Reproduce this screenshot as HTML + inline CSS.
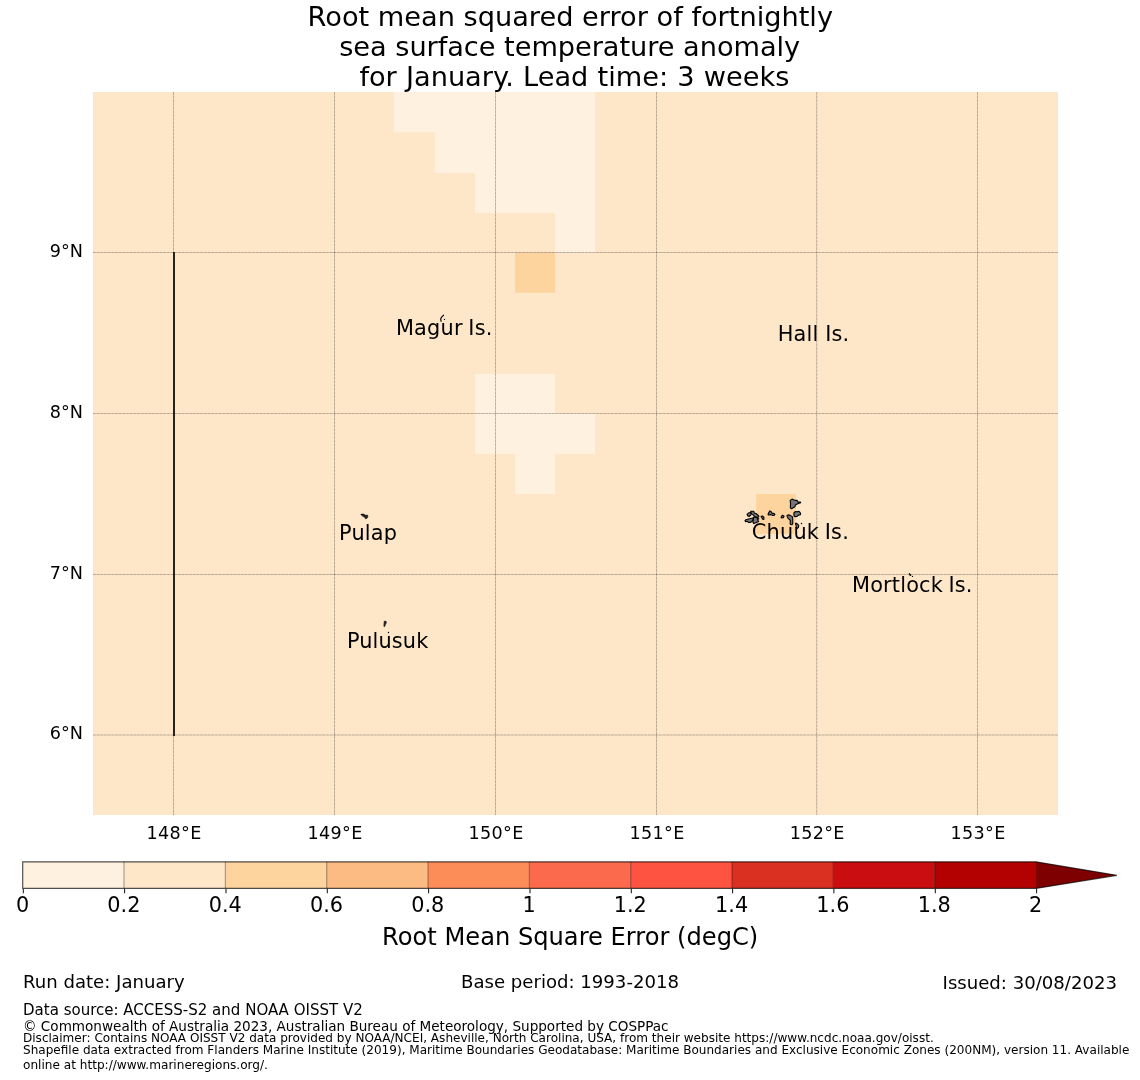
<!DOCTYPE html>
<html><head><meta charset="utf-8"><title>RMSE SST anomaly</title>
<style>
html,body{margin:0;padding:0;background:#fff;}
svg{display:block;font-family:"DejaVu Sans","Liberation Sans",sans-serif;fill:#000;}
.g{stroke:#000;stroke-opacity:.16;stroke-width:1;stroke-dasharray:2.6 1.1;fill:none}
.gs{stroke:#000;stroke-opacity:.125;stroke-width:1;fill:none}
.isl{fill:#757575;stroke:#000;stroke-width:1.1;stroke-linejoin:round}
.t{font-size:27.2px;text-anchor:middle}
.ax{font-size:17.6px;letter-spacing:.3px}
.lb{font-size:20.83px;letter-spacing:.23px;word-spacing:-1.3px}
.cb{font-size:20.8px;text-anchor:middle}
</style></head><body>
<svg width="1140" height="1080" viewBox="0 0 1140 1080">
<rect width="1140" height="1080" fill="#fff"/>
<text class="t" x="570.3" y="25.8">Root mean squared error of fortnightly</text>
<text class="t" x="569.7" y="55.6" style="letter-spacing:-.04px">sea surface temperature anomaly</text>
<text class="t" x="574.4" y="85.7" style="word-spacing:.55px">for January. Lead time: 3 weeks</text>
<rect x="93.0" y="92.0" width="965.0" height="723.0" fill="#fee7c9"/>
<polygon fill="#fff1df" points="394,92 595,92 595,252.6 555,252.6 555,212.9 475,212.9 475,172.8 434.8,172.8 434.8,132.2 394,132.2"/>
<rect x="515.1" y="252.6" width="39.9" height="40.2" fill="#fdd49e"/>
<polygon fill="#fff1df" points="475,374 555,374 555,413.6 595,413.6 595,453.9 555,453.9 555,494 515.1,494 515.1,453.9 475,453.9"/>
<rect x="756.1" y="494.0" width="39.8" height="39.9" fill="#fdd49e"/>
<line class="gs" x1="173.5" x2="173.5" y1="92.0" y2="815.0"/>
<line class="g" x1="173.5" x2="173.5" y1="92.0" y2="815.0"/>
<line class="gs" x1="334.5" x2="334.5" y1="92.0" y2="815.0"/>
<line class="g" x1="334.5" x2="334.5" y1="92.0" y2="815.0"/>
<line class="gs" x1="495.5" x2="495.5" y1="92.0" y2="815.0"/>
<line class="g" x1="495.5" x2="495.5" y1="92.0" y2="815.0"/>
<line class="gs" x1="656.5" x2="656.5" y1="92.0" y2="815.0"/>
<line class="g" x1="656.5" x2="656.5" y1="92.0" y2="815.0"/>
<line class="gs" x1="816.7" x2="816.7" y1="92.0" y2="815.0"/>
<line class="g" x1="816.7" x2="816.7" y1="92.0" y2="815.0"/>
<line class="gs" x1="977.5" x2="977.5" y1="92.0" y2="815.0"/>
<line class="g" x1="977.5" x2="977.5" y1="92.0" y2="815.0"/>
<line class="gs" y1="252.5" y2="252.5" x1="93.0" x2="1058.0"/>
<line class="g" y1="252.5" y2="252.5" x1="93.0" x2="1058.0"/>
<line class="gs" y1="413.5" y2="413.5" x1="93.0" x2="1058.0"/>
<line class="g" y1="413.5" y2="413.5" x1="93.0" x2="1058.0"/>
<line class="gs" y1="574.5" y2="574.5" x1="93.0" x2="1058.0"/>
<line class="g" y1="574.5" y2="574.5" x1="93.0" x2="1058.0"/>
<line class="gs" y1="735.0" y2="735.0" x1="93.0" x2="1058.0"/>
<line class="g" y1="735.0" y2="735.0" x1="93.0" x2="1058.0"/>
<line x1="174" x2="174" y1="252" y2="735.9" stroke="#1e1b16" stroke-width="1.9"/>
<text class="ax" text-anchor="middle" x="174.1" y="838.9">148°E</text>
<text class="ax" text-anchor="middle" x="335.1" y="838.9">149°E</text>
<text class="ax" text-anchor="middle" x="496.1" y="838.9">150°E</text>
<text class="ax" text-anchor="middle" x="657.1" y="838.9">151°E</text>
<text class="ax" text-anchor="middle" x="817.3" y="838.9">152°E</text>
<text class="ax" text-anchor="middle" x="978.1" y="838.9">153°E</text>
<text class="ax" text-anchor="end" style="letter-spacing:.1px" x="83.1" y="256.5">9°N</text>
<text class="ax" text-anchor="end" style="letter-spacing:.1px" x="83.1" y="417.5">8°N</text>
<text class="ax" text-anchor="end" style="letter-spacing:.1px" x="83.1" y="578.5">7°N</text>
<text class="ax" text-anchor="end" style="letter-spacing:.1px" x="83.1" y="739.0">6°N</text>
<polygon class="isl" points="747.04,514.38 748.37,513.05 750.6,512.45 751.19,513.79 750.89,514.97 749.41,516.46 747.78,515.86"/>
<polygon class="isl" points="750.75,511.27 753.86,511.27 754.16,512.9 755.93,513.49 758.6,515.57 758.75,516.75 758.01,517.35 755.34,516.75 754.45,516.46 753.27,514.97 752.08,514.38 751.19,513.2"/>
<polygon class="isl" points="744.96,520.61 745.85,519.72 749.41,518.83 752.97,517.94 753.27,519.42 752.08,521.2 750.6,522.39 748.52,522.39 747.04,521.2 745.56,521.79"/>
<polygon class="isl" points="753.41,517.35 755.04,517.05 758.01,518.53 758.75,518.83 757.42,519.72 758.75,521.5 757.42,522.09 755.04,522.98 753.86,523.57 752.97,522.68 753.27,519.72"/>
<polygon class="isl" points="761.12,516.31 762.75,516.16 763.94,517.35 763.79,519.42 762.75,519.13 761.72,517.64"/>
<polygon class="isl" points="790.16,500.42 792,499.13 793.48,499.68 795.69,500.42 797.16,500.42 797.9,501.9 800.48,502.08 800.66,502.82 798.63,503.37 797.16,503.92 795.32,505.03 794.95,506.69 793.11,507.79 791.45,508.71 790.34,507.79 790.53,503.37"/>
<polygon class="isl" points="794.03,512.58 795.69,511.48 797.16,511.84 798.63,511.29 799.92,512.21 800.66,513.69 800.29,514.79 798.63,515.16 797.16,516.27 795.69,516.63 794.21,516.45 793.84,514.42"/>
<polygon class="isl" points="787.03,515.53 788.69,514.79 790.16,515.53 792.37,516.63 792.74,518.84 792.74,523.63 792,524.74 790.53,524.56 790.16,523.27 790.34,520.32 789.05,519.21 787.95,518.11 787.21,516.63"/>
<polygon class="isl" points="781.13,517 782.42,515.16 784.08,516.27 783.16,517.74 781.32,517.92"/>
<polygon class="isl" points="768.05,514.24 768.79,512.58 769.9,510.92 771,511.48 772.11,513.13 773.95,513.5 774.87,514.42 774.32,515.16 772.66,515.53 771,514.61 768.42,514.98"/>
<polygon class="isl" points="795.5,523.27 796.42,523.27 797.9,524.37 798.82,525.48 798.45,527.32 797.34,528.42 796.42,527.69 796.05,525.48"/>
<circle cx="801.5" cy="523.45" r=".75" fill="#000"/>
<path d="M443.6 315.1 L441.4 317.3 L440.7 319.2 L441.1 321.3" fill="none" stroke="#000" stroke-width="1.15" stroke-linecap="round" stroke-linejoin="round"/>
<circle cx="444.5" cy="319.4" r=".65"/>
<path d="M360.9 514.1 L363.7 514.1 L365.8 515.3 L367.4 515 L368 516.3 L367.1 518.2 L365.5 518.9 L365 517.4 L363.2 516.6 L361.2 515.1 Z" fill="#222" stroke="#000" stroke-width=".5" stroke-linejoin="round"/>
<path d="M384.1 621.2 L385.6 621 L386.7 622.1 L385.6 624.6 L384.6 626.8 L383.8 626.4 L383.9 624 Z" fill="#2a2a2a" stroke="#000" stroke-width=".4" stroke-linejoin="round"/>
<circle cx="388.45" cy="632.5" r=".7"/>
<path d="M909.2 573.3 L909.8 575.4 L911 575.6 L910.8 574.6 Z" fill="#000" stroke="#000" stroke-width=".7" stroke-linejoin="round"/>
<circle cx="912.5" cy="576.4" r=".7"/>
<text class="lb" x="395.9" y="335.2">Magur Is.</text>
<text class="lb" x="339.0" y="539.8">Pulap</text>
<text class="lb" x="346.9" y="647.8" style="letter-spacing:.15px">Pulusuk</text>
<text class="lb" x="751.8" y="539">Chuuk Is.</text>
<text class="lb" x="777.7" y="340.8" style="word-spacing:-.3px">Hall Is.</text>
<text class="lb" x="852.0" y="591.8" style="letter-spacing:.18px">Mortlock Is.</text>
<rect x="22.7" y="861.8" width="101.5" height="26.6" fill="#fff1df"/>
<rect x="124.0" y="861.8" width="101.5" height="26.6" fill="#fee7c9"/>
<rect x="225.4" y="861.8" width="101.5" height="26.6" fill="#fdd49e"/>
<rect x="326.7" y="861.8" width="101.5" height="26.6" fill="#fdbb84"/>
<rect x="428.0" y="861.8" width="101.5" height="26.6" fill="#fc8d59"/>
<rect x="529.4" y="861.8" width="101.5" height="26.6" fill="#fc6a4e"/>
<rect x="630.7" y="861.8" width="101.5" height="26.6" fill="#ff5341"/>
<rect x="732.0" y="861.8" width="101.5" height="26.6" fill="#d93021"/>
<rect x="833.3" y="861.8" width="101.5" height="26.6" fill="#c90d10"/>
<rect x="934.7" y="861.8" width="101.5" height="26.6" fill="#b30000"/>
<polygon points="1036.0,861.8 1116.9,875.3 1036.0,888.4" fill="#7f0000"/>
<line x1="124.0" x2="124.0" y1="861.8" y2="888.4" stroke="#000" stroke-opacity=".3" stroke-width="1.3"/>
<line x1="225.4" x2="225.4" y1="861.8" y2="888.4" stroke="#000" stroke-opacity=".3" stroke-width="1.3"/>
<line x1="326.7" x2="326.7" y1="861.8" y2="888.4" stroke="#000" stroke-opacity=".3" stroke-width="1.3"/>
<line x1="428.0" x2="428.0" y1="861.8" y2="888.4" stroke="#000" stroke-opacity=".3" stroke-width="1.3"/>
<line x1="529.4" x2="529.4" y1="861.8" y2="888.4" stroke="#000" stroke-opacity=".3" stroke-width="1.3"/>
<line x1="630.7" x2="630.7" y1="861.8" y2="888.4" stroke="#000" stroke-opacity=".3" stroke-width="1.3"/>
<line x1="732.0" x2="732.0" y1="861.8" y2="888.4" stroke="#000" stroke-opacity=".3" stroke-width="1.3"/>
<line x1="833.3" x2="833.3" y1="861.8" y2="888.4" stroke="#000" stroke-opacity=".3" stroke-width="1.3"/>
<line x1="934.7" x2="934.7" y1="861.8" y2="888.4" stroke="#000" stroke-opacity=".3" stroke-width="1.3"/>
<polygon points="22.7,861.8 1036.0,861.8 1116.9,875.3 1036.0,888.4 22.7,888.4" fill="none" stroke="#000" stroke-opacity=".68" stroke-width="1.2" stroke-linejoin="miter"/>
<line x1="23.3" x2="23.3" y1="888.9" y2="893.3" stroke="#000" stroke-width=".95"/>
<text class="cb" x="22.6" y="911.8">0</text>
<line x1="124.6" x2="124.6" y1="888.9" y2="893.3" stroke="#000" stroke-width=".95"/>
<text class="cb" x="123.9" y="911.8">0.2</text>
<line x1="226.0" x2="226.0" y1="888.9" y2="893.3" stroke="#000" stroke-width=".95"/>
<text class="cb" x="225.2" y="911.8">0.4</text>
<line x1="327.3" x2="327.3" y1="888.9" y2="893.3" stroke="#000" stroke-width=".95"/>
<text class="cb" x="326.5" y="911.8">0.6</text>
<line x1="428.6" x2="428.6" y1="888.9" y2="893.3" stroke="#000" stroke-width=".95"/>
<text class="cb" x="427.8" y="911.8">0.8</text>
<line x1="530.0" x2="530.0" y1="888.9" y2="893.3" stroke="#000" stroke-width=".95"/>
<text class="cb" x="529.1" y="911.8">1</text>
<line x1="631.3" x2="631.3" y1="888.9" y2="893.3" stroke="#000" stroke-width=".95"/>
<text class="cb" x="630.3" y="911.8">1.2</text>
<line x1="732.6" x2="732.6" y1="888.9" y2="893.3" stroke="#000" stroke-width=".95"/>
<text class="cb" x="731.6" y="911.8">1.4</text>
<line x1="833.9" x2="833.9" y1="888.9" y2="893.3" stroke="#000" stroke-width=".95"/>
<text class="cb" x="832.9" y="911.8">1.6</text>
<line x1="935.3" x2="935.3" y1="888.9" y2="893.3" stroke="#000" stroke-width=".95"/>
<text class="cb" x="934.2" y="911.8">1.8</text>
<line x1="1036.6" x2="1036.6" y1="888.9" y2="893.3" stroke="#000" stroke-width=".95"/>
<text class="cb" x="1035.5" y="911.8">2</text>
<text x="570.2" y="944.8" font-size="24.15" text-anchor="middle">Root Mean Square Error (degC)</text>
<text x="23" y="988.2" font-size="18.1">Run date: January</text>
<text x="570" y="988.2" font-size="18.1" text-anchor="middle">Base period: 1993-2018</text>
<text x="1117" y="988.5" font-size="18.1" text-anchor="end">Issued: 30/08/2023</text>
<text x="23" y="1015" font-size="15.03">Data source: ACCESS-S2 and NOAA OISST V2</text>
<text x="23" y="1030.8" font-size="13.57">© Commonwealth of Australia 2023, Australian Bureau of Meteorology, Supported by COSPPac</text>
<text x="23" y="1041.8" font-size="12.05">Disclaimer: Contains NOAA OISST V2 data provided by NOAA/NCEI, Asheville, North Carolina, USA, from their website https://www.ncdc.noaa.gov/oisst.</text>
<text x="23" y="1053.6" font-size="12.05">Shapefile data extracted from Flanders Marine Institute (2019), Maritime Boundaries Geodatabase: Maritime Boundaries and Exclusive Economic Zones (200NM), version 11. Available</text>
<text x="23" y="1068.5" font-size="12.1">online at http://www.marineregions.org/.</text>
</svg></body></html>
